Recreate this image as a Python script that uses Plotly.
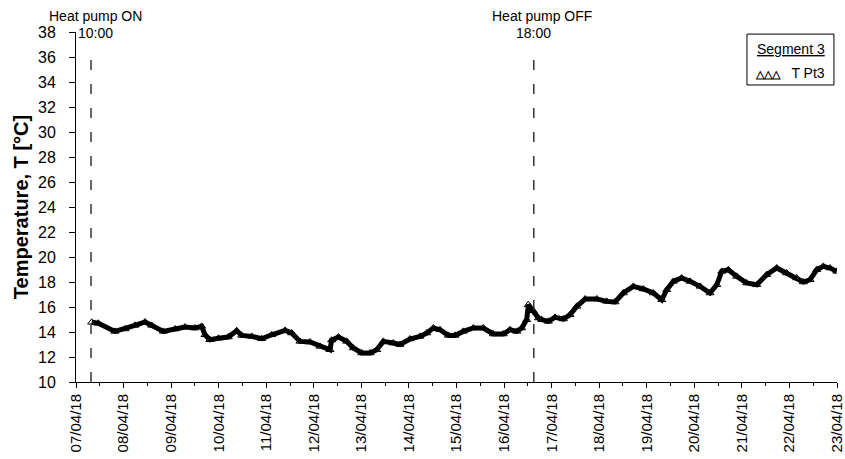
import plotly.graph_objects as go

# ---- data ----
times = [
    "2018-04-07 07:55", "2018-04-07 11:15", "2018-04-07 19:40", "2018-04-08 00:45",
    "2018-04-08 05:45", "2018-04-08 10:50", "2018-04-08 14:10", "2018-04-08 20:05",
    "2018-04-09 02:00", "2018-04-09 07:00", "2018-04-09 12:00", "2018-04-09 15:25",
    "2018-04-09 17:05", "2018-04-09 19:35", "2018-04-09 23:50", "2018-04-10 04:50",
    "2018-04-10 09:05", "2018-04-10 11:35", "2018-04-10 16:40", "2018-04-10 21:40",
    "2018-04-11 02:45", "2018-04-11 09:30", "2018-04-11 12:50", "2018-04-11 17:00",
    "2018-04-11 22:05", "2018-04-12 03:05", "2018-04-12 08:10", "2018-04-12 09:00",
    "2018-04-12 12:25", "2018-04-12 16:35", "2018-04-12 19:55", "2018-04-13 00:10",
    "2018-04-13 04:25", "2018-04-13 07:45", "2018-04-13 11:05", "2018-04-13 16:05",
    "2018-04-13 19:30", "2018-04-14 00:30", "2018-04-14 05:35", "2018-04-14 09:00",
    "2018-04-14 12:20", "2018-04-14 15:40", "2018-04-14 19:55", "2018-04-14 23:15",
    "2018-04-15 03:25", "2018-04-15 08:30", "2018-04-15 13:30", "2018-04-15 18:35",
    "2018-04-15 23:35", "2018-04-16 03:00", "2018-04-16 06:25", "2018-04-16 08:55",
    "2018-04-16 11:25", "2018-04-16 12:15", "2018-04-16 14:45", "2018-04-16 17:20",
    "2018-04-16 19:00", "2018-04-16 22:20", "2018-04-17 01:40", "2018-04-17 05:55",
    "2018-04-17 09:15", "2018-04-17 12:40", "2018-04-17 16:55", "2018-04-17 22:50",
    "2018-04-18 03:50", "2018-04-18 08:00", "2018-04-18 12:10", "2018-04-18 17:15",
    "2018-04-18 22:15", "2018-04-19 03:20", "2018-04-19 07:35", "2018-04-19 10:05",
    "2018-04-19 13:25", "2018-04-19 17:35", "2018-04-19 21:50", "2018-04-20 02:55",
    "2018-04-20 07:55", "2018-04-20 11:20", "2018-04-20 13:50", "2018-04-20 17:10",
    "2018-04-20 21:25", "2018-04-21 02:25", "2018-04-21 07:30", "2018-04-21 12:30",
    "2018-04-21 17:35", "2018-04-21 22:35", "2018-04-22 03:40", "2018-04-22 07:00",
    "2018-04-22 10:25", "2018-04-22 13:45", "2018-04-22 17:05", "2018-04-22 20:30",
    "2018-04-22 23:55",
]
t_pt3 = [
    14.78, 14.70, 14.05, 14.24,
    14.53, 14.80, 14.53, 14.05,
    14.24, 14.40, 14.32, 14.45,
    13.78, 13.38, 13.50, 13.60,
    14.10, 13.73, 13.65, 13.46,
    13.78, 14.13, 13.92, 13.25,
    13.20, 12.85, 12.58, 13.35,
    13.60, 13.25, 12.72, 12.32,
    12.32, 12.58, 13.25, 13.12,
    13.00, 13.44, 13.65, 13.92,
    14.32, 14.18, 13.73, 13.73,
    14.05, 14.32, 14.32, 13.84,
    13.84, 14.18, 14.05, 14.32,
    14.98, 16.18, 15.70, 15.12,
    14.98, 14.85, 15.17, 15.04,
    15.38, 16.05, 16.64, 16.64,
    16.45, 16.40, 17.12, 17.65,
    17.44, 17.12, 16.58, 17.38,
    18.05, 18.32, 18.05, 17.65,
    17.12, 17.78, 18.85, 18.98,
    18.45, 17.92, 17.78, 18.58,
    19.12, 18.72, 18.32, 18.00,
    18.18, 18.98, 19.25, 19.12,
    18.85,
]

event_lines = ["2018-04-07 07:35", "2018-04-16 15:00"]
event_titles = ["Heat pump ON", "Heat pump OFF"]
event_title_x = ["2018-04-07 10:00", "2018-04-16 19:00"]
event_times = ["10:00", "18:00"]
event_time_x = ["2018-04-07 10:00", "2018-04-16 15:00"]

x_range = ["2018-04-07 00:00", "2018-04-23 00:00"]
y_range = [10, 38]
series_name = "T Pt3"
legend_title = "Segment 3"

FONT = "Liberation Sans, Arial, sans-serif"

fig = go.Figure()
fig.add_trace(go.Scatter(
    x=times, y=t_pt3, mode="lines+markers", name=series_name,
    line=dict(color="black", width=5),
    marker=dict(symbol="triangle-up-open", size=7, color="black", line=dict(width=1)),
    showlegend=False,
))

shapes = []
annotations = []
for xl in event_lines:
    shapes.append(dict(type="line", xref="x", yref="paper", x0=xl, x1=xl, y0=0, y1=0.955,
                       line=dict(color="#333333", width=1.5, dash="10px,14px")))
for tx, tt in zip(event_title_x, event_titles):
    annotations.append(dict(x=tx, xref="x", y=1.045, yref="paper", text=tt, showarrow=False,
                            xanchor="center", yanchor="middle",
                            font=dict(family=FONT, size=14, color="black")))
for tx, tt in zip(event_time_x, event_times):
    annotations.append(dict(x=tx, xref="x", y=0.998, yref="paper", text=tt, showarrow=False,
                            xanchor="center", yanchor="middle",
                            font=dict(family=FONT, size=14, color="black")))

# legend box
shapes.append(dict(type="rect", xref="paper", yref="paper", x0=0.8817, x1=0.996, y0=0.8486, y1=0.994,
                   line=dict(color="black", width=1), fillcolor="white", layer="above"))
annotations.append(dict(x=0.939, xref="paper", y=0.951, yref="paper", text="<u>" + legend_title + "</u>",
                        showarrow=False, xanchor="center", yanchor="middle",
                        font=dict(family=FONT, size=14, color="black")))
annotations.append(dict(x=0.938, xref="paper", y=0.883, yref="paper",
                        text="<span style='font-size:11px;font-weight:bold'>△△△</span>   " + series_name,
                        showarrow=False, xanchor="center", yanchor="middle",
                        font=dict(family=FONT, size=14, color="black")))

fig.update_layout(
    width=845, height=459,
    margin=dict(l=76, r=8, t=32, b=77, autoexpand=False),
    paper_bgcolor="white", plot_bgcolor="white",
    font=dict(family=FONT, size=15, color="black"),
    shapes=shapes, annotations=annotations,
    xaxis=dict(
        type="date", range=x_range, tickformat="%d/%m/%y", dtick=86400000,
        tick0="2018-04-07", tickangle=-90, ticks="outside", ticklen=5, tickwidth=1,
        tickcolor="black", showline=True, linecolor="black", linewidth=1,
        showgrid=False, zeroline=False, tickfont=dict(size=15), automargin=False,
        minor=dict(ticks="outside", ticklen=3, dtick=43200000, tickcolor="black", showgrid=False),
    ),
    yaxis=dict(
        range=y_range, dtick=2, ticks="outside", ticklen=6, tickwidth=1, tickcolor="black",
        showline=True, linecolor="black", linewidth=1, showgrid=False, zeroline=False,
        tickfont=dict(size=16), automargin=False, ticklabelstandoff=10,
        title=dict(text="<b>Temperature, T [°C]</b>", font=dict(size=20), standoff=4),
    ),
)

fig.write_html(
    "out.html",
    config={"displayModeBar": False},
    post_script="document.body.style.margin='0';document.body.style.overflow='hidden';",
)
